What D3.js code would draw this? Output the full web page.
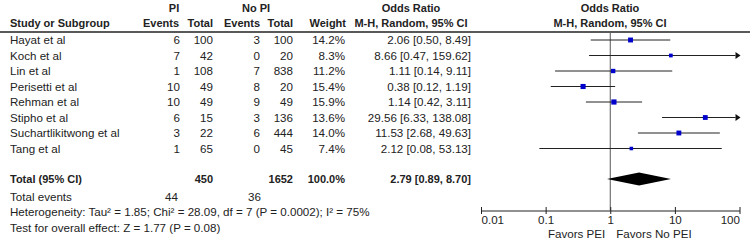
<!DOCTYPE html>
<html><head><meta charset="utf-8">
<script src="https://cdn.jsdelivr.net/npm/d3@7"></script>
<style>body{margin:0;background:#fff}svg{display:block}text{font-family:"Liberation Sans",Arial,sans-serif;font-size:11.6px;fill:#222}text.b{font-size:11px;font-weight:bold}</style>
</head><body>
<script>
const studies = ["Hayat et al","Koch et al","Lin et al","Perisetti et al","Rehman et al","Stipho et al","Suchartlikitwong et al","Tang et al"];
const piEvents = [6,7,1,10,10,6,3,1];
const piTotal = [100,42,108,49,49,15,22,65];
const noEvents = [3,0,7,8,9,3,6,0];
const noTotal = [100,20,838,20,49,136,444,45];
const weights = [14.2,8.3,11.2,15.4,15.9,13.6,14.0,7.4];
const orVal = [2.06,8.66,1.11,0.38,1.14,29.56,11.53,2.12];
const orLo = [0.50,0.47,0.14,0.12,0.42,6.33,2.68,0.08];
const orHi = [8.49,159.62,9.11,1.19,3.11,138.08,49.63,53.13];
const total = {label:"Total (95% CI)", piTotal:450, noTotal:1652, weight:"100.0%", or:2.79, lo:0.89, hi:8.70};
const totalEvents = [44,36];
const hetText = "Heterogeneity: Tau\u00b2 = 1.85; Chi\u00b2 = 28.09, df = 7 (P = 0.0002); I\u00b2 = 75%";
const testText = "Test for overall effect: Z = 1.77 (P = 0.08)";
const tickVals = [0.01,0.1,1,10,100];
const tickLabels = ["0.01","0.1","1","10","100"];
const favorLeft = "Favors PEI", favorRight = "Favors No PEI";

const W=750,H=249;
const svg=d3.select("body").append("svg").attr("width",W).attr("height",H);
const x=d3.scaleLog().domain([0.01,100]).range([481,739.5]);
const rowY=d3.scaleLinear().domain([0,1]).range([40,55.5]);
const yTotal=179, yAxis=210.5;
const col={study:10,piE:180,piT:213,noE:260,noT:293,w:345,or:471};
const txt=(t,xx,yy,anchor,bold)=>svg.append("text").attr("class",bold?"b":null).attr("x",xx).attr("y",yy+4).attr("text-anchor",anchor||"start").text(t);

// headers
txt("PI",174,8,"middle",true);
txt("No PI",256,8,"middle",true);
txt("Odds Ratio",411,8,"middle",true);
txt("Odds Ratio",610,8,"middle",true);
txt("Study or Subgroup",col.study,23,"start",true);
txt("Events",179,23,"end",true);
txt("Total",col.piT,23,"end",true);
txt("Events",260,23,"end",true);
txt("Total",col.noT,23,"end",true);
txt("Weight",col.w+1,23,"end",true);
txt("M-H, Random, 95% CI",411,23,"middle",true);
txt("M-H, Random, 95% CI",610,23,"middle",true);
svg.append("line").attr("x1",0).attr("x2",W).attr("y1",32).attr("y2",32).attr("stroke","#222").attr("stroke-width",1.6);

// null line
svg.append("line").attr("x1",x(1)).attr("x2",x(1)).attr("y1",33).attr("y2",yAxis).attr("stroke","#555").attr("stroke-width",1);

const f2=v=>v.toFixed(2);
studies.forEach((s,i)=>{
  const y=rowY(i);
  txt(s,col.study,y);
  txt(piEvents[i],col.piE,y,"end");
  txt(piTotal[i],col.piT,y,"end");
  txt(noEvents[i],col.noE,y,"end");
  txt(noTotal[i],col.noT,y,"end");
  txt(weights[i].toFixed(1)+"%",col.w,y,"end");
  txt(`${f2(orVal[i])} [${f2(orLo[i])}, ${f2(orHi[i])}]`,col.or,y,"end");
  const over=orHi[i]>100;
  const x1=x(Math.max(orLo[i],0.01)), x2=over?x(100)-4:x(orHi[i]);
  svg.append("line").attr("x1",x1).attr("x2",x2).attr("y1",y).attr("y2",y).attr("stroke","#222").attr("stroke-width",1);
  if(over){
    const t=x(100)+1;
    svg.append("path").attr("d",`M${t},${y}L${t-5},${y-3.5}L${t-5},${y+3.5}Z`).attr("fill","#111");
  }
  const sz=1.3*Math.sqrt(weights[i]);
  svg.append("rect").attr("x",x(orVal[i])-sz/2).attr("y",y-sz/2).attr("width",sz).attr("height",sz).attr("fill","#0000cc");
});

// total
txt(total.label,col.study,yTotal,"start",true);
txt(total.piTotal,col.piT,yTotal,"end",true);
txt(total.noTotal,col.noT,yTotal,"end",true);
txt(total.weight,col.w,yTotal,"end",true);
txt(`${f2(total.or)} [${f2(total.lo)}, ${f2(total.hi)}]`,col.or,yTotal,"end",true);
svg.append("path").attr("d",`M${x(total.lo)},${yTotal}L${x(total.or)},${yTotal-6.5}L${x(total.hi)},${yTotal}L${x(total.or)},${yTotal+6.5}Z`).attr("fill","#000");

txt("Total events",col.study,197);
txt(totalEvents[0],col.piE-2,197,"end");
txt(totalEvents[1],col.noE+1,197,"end");
txt(hetText,col.study,212);
txt(testText,col.study,227.5);

// axis
const ax=d3.axisBottom(x).tickValues(tickVals).tickSize(4).tickSizeOuter(0).tickFormat((d,i)=>tickLabels[i]);
const g=svg.append("g").attr("transform",`translate(0,${yAxis})`).call(ax);
g.select(".domain").attr("stroke","#222");
g.selectAll(".tick line").attr("y1",-3.5).attr("y2",3.5).attr("stroke","#222");
g.selectAll(".tick text").attr("y",5).attr("dy","0.71em").attr("fill","#222").style("font-size","11.6px").style("font-family","'Liberation Sans',Arial,sans-serif")
  .attr("text-anchor",(d,i)=>i===0?"start":(i===tickVals.length-1?"end":"middle"));
txt(favorLeft,x(1)-5,234,"end");
txt(favorRight,x(1)+6,234,"start");
</script>
</body></html>
